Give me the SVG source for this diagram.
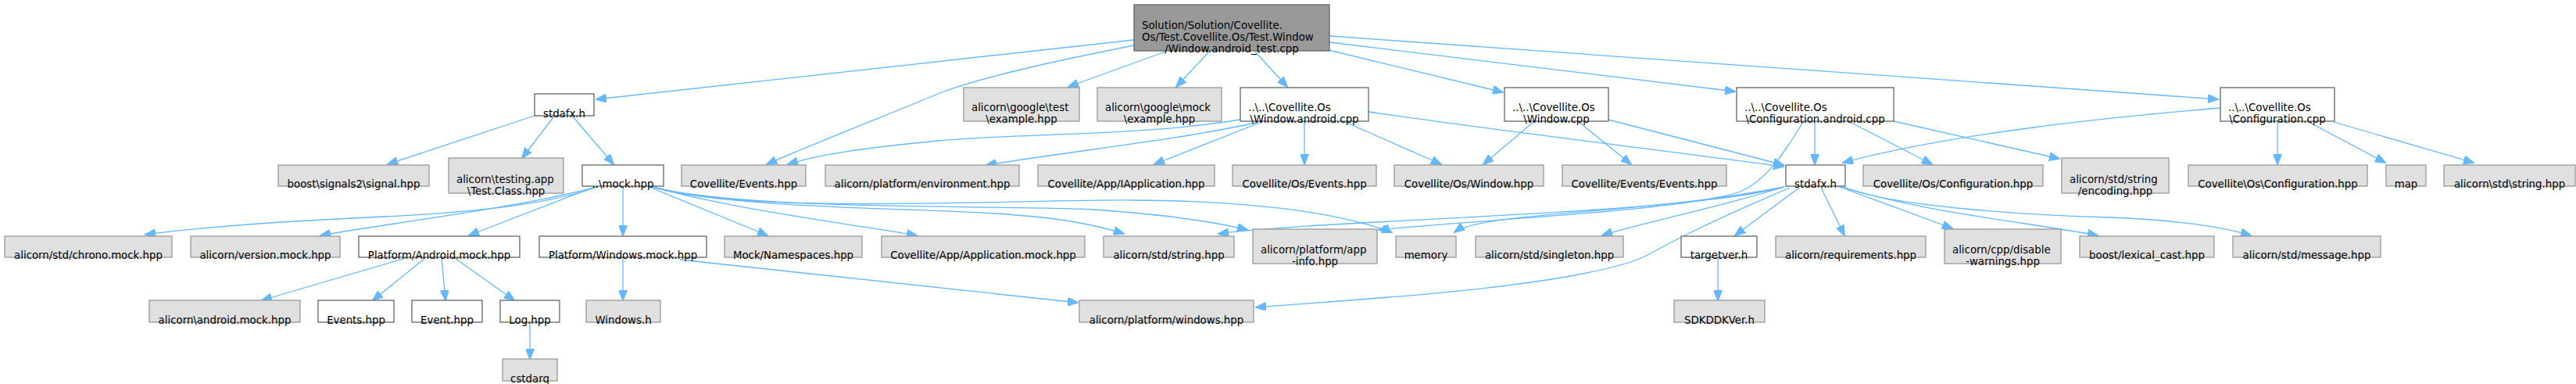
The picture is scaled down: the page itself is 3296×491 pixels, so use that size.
<svg xmlns="http://www.w3.org/2000/svg" width="3296" height="491" viewBox="0 0 3296 491">
<defs>
<style>
.g rect{fill:#e0e0e0;stroke:#999999;stroke-width:1.3}
.w rect{fill:#ffffff;stroke:#666666;stroke-width:1.3}
.r rect{fill:#999999;stroke:#666666;stroke-width:1.3}
text{font-family:"DejaVu Sans",sans-serif;font-size:13.33px;fill:#000}
.c{text-anchor:middle}
#edges path{fill:none;stroke:#63b8ff;stroke-width:1.3;marker-end:url(#ah)}
</style>
<marker id="ah" markerUnits="userSpaceOnUse" markerWidth="14" markerHeight="11" viewBox="0 0 14 11" refX="13" refY="5.5" orient="auto"><path d="M0,0 L14,5.5 L0,11 z" fill="#63b8ff" stroke="#63b8ff"/></marker>
</defs>
<rect width="3296" height="491" fill="#ffffff"/>
<g id="edges">
<path d="M1451,51 L763,127"/>
<path d="M1451,58 C1340,80 1260,98 1205,118 C1140,145 1050,180 981,210"/>
<path d="M1491,66 L1367,111"/>
<path d="M1547,66 L1505,111"/>
<path d="M1606,66 L1647,111"/>
<path d="M1700,64 L1923,118"/>
<path d="M1701,54 L2220,117"/>
<path d="M1701,46 L2838,127"/>
<path d="M684,148 L496,210"/>
<path d="M708,150 L668,202"/>
<path d="M732,148 L785,210"/>
<path d="M1587,153 C1450,175 1300,170 1200,180 C1100,190 1050,197 1008,210"/>
<path d="M1607,157 C1500,180 1380,192 1262,211"/>
<path d="M1614,156 L1477,210"/>
<path d="M1669,156 L1669,210"/>
<path d="M1721,156 L1844,210"/>
<path d="M1751,143 C1900,165 2150,195 2282,213"/>
<path d="M2058,153 L2282,211"/>
<path d="M1962,156 L1898,210"/>
<path d="M2020,156 L2087,210"/>
<path d="M2322,156 L2322,210"/>
<path d="M2367,156 L2472,210"/>
<path d="M2423,155 L2635,203"/>
<path d="M2307,156 C2280,200 2260,230 2227,245 C2150,270 1900,280 1764,294"/>
<path d="M761,240 C700,262 600,272 491,277 C380,282 260,290 186,300"/>
<path d="M765,239 C650,268 500,285 410,301"/>
<path d="M758,240 L600,301"/>
<path d="M797,240 L797,301"/>
<path d="M833,240 L982,301"/>
<path d="M835,239 C950,270 1080,285 1173,301"/>
<path d="M835,239 C950,270 1200,265 1300,275 C1370,280 1410,290 1438,299"/>
<path d="M835,239 C950,270 1300,262 1400,268 C1500,275 1560,285 1596,294"/>
<path d="M835,239 C950,275 1300,255 1450,256 C1620,257 1720,275 1781,297"/>
<path d="M2302,240 L2220,301"/>
<path d="M2330,240 L2360,301"/>
<path d="M2351,238 L2498,292"/>
<path d="M2355,238 C2450,270 2600,285 2684,301"/>
<path d="M2355,238 C2420,265 2600,275 2700,278 C2800,282 2850,292 2880,301"/>
<path d="M2283,239 C2200,265 2100,285 2050,301"/>
<path d="M2283,239 C2100,275 1900,270 1861,297"/>
<path d="M2283,239 C2150,275 1700,280 1559,299"/>
<path d="M2290,240 C2150,300 2140,310 2100,330 C2000,370 1700,385 1607,393"/>
<path d="M2198,329 L2198,384"/>
<path d="M519,330 L335,384"/>
<path d="M544,330 L477,384"/>
<path d="M565,330 L570,384"/>
<path d="M582,330 L658,384"/>
<path d="M797,329 L797,384"/>
<path d="M870,332 L1379,387"/>
<path d="M678,412 L678,459"/>
<path d="M2841,138 C2700,150 2500,170 2358,208"/>
<path d="M2914,156 L2914,210"/>
<path d="M2954,156 L3052,208"/>
<path d="M2986,156 L3165,208"/>
</g>
<g id="n_root" class="r"><rect x="1451" y="6" width="250" height="59"/><text x="1461" y="37">Solution/Solution/Covellite.</text><text x="1461" y="52">Os/Test.Covellite.Os/Test.Window</text><text class="c" x="1576" y="67">/Window.android_test.cpp</text></g>
<g id="n_stdafx_l" class="w"><rect x="684" y="120" width="76" height="28"/><text class="c" x="722" y="149.5">stdafx.h</text></g>
<g id="n_gtest" class="g"><rect x="1233" y="112" width="148" height="43"/><text x="1243" y="142">alicorn\google\test</text><text class="c" x="1307" y="157">\example.hpp</text></g>
<g id="n_gmock" class="g"><rect x="1404" y="112" width="159" height="43"/><text x="1414" y="142">alicorn\google\mock</text><text class="c" x="1483.5" y="157">\example.hpp</text></g>
<g id="n_winand" class="w"><rect x="1587" y="112" width="164" height="43"/><text x="1597" y="142">..\..\Covellite.Os</text><text class="c" x="1669" y="157">\Window.android.cpp</text></g>
<g id="n_win" class="w"><rect x="1925" y="112" width="133" height="43"/><text x="1935" y="142">..\..\Covellite.Os</text><text class="c" x="1991.5" y="157">\Window.cpp</text></g>
<g id="n_confand" class="w"><rect x="2222" y="112" width="201" height="43"/><text x="2232" y="142">..\..\Covellite.Os</text><text class="c" x="2322.5" y="157">\Configuration.android.cpp</text></g>
<g id="n_conf" class="w"><rect x="2841" y="112" width="146" height="43"/><text x="2851" y="142">..\..\Covellite.Os</text><text class="c" x="2914" y="157">\Configuration.cpp</text></g>
<g id="n_signal" class="g"><rect x="356" y="211" width="193" height="27"/><text class="c" x="452.5" y="239.5">boost\signals2\signal.hpp</text></g>
<g id="n_testclass" class="g"><rect x="574" y="202" width="147" height="45"/><text x="584" y="233.5">alicorn\testing.app</text><text class="c" x="647.5" y="248.5">\Test.Class.hpp</text></g>
<g id="n_mock" class="w"><rect x="745" y="211" width="104" height="27"/><text class="c" x="797" y="239.5">..\mock.hpp</text></g>
<g id="n_cevents" class="g"><rect x="872" y="211" width="159" height="27"/><text class="c" x="951.5" y="239.5">Covellite/Events.hpp</text></g>
<g id="n_env" class="g"><rect x="1056" y="211" width="248" height="27"/><text class="c" x="1180" y="239.5">alicorn/platform/environment.hpp</text></g>
<g id="n_iapp" class="g"><rect x="1328" y="211" width="226" height="27"/><text class="c" x="1441" y="239.5">Covellite/App/IApplication.hpp</text></g>
<g id="n_osevents" class="g"><rect x="1577" y="211" width="184" height="27"/><text class="c" x="1669" y="239.5">Covellite/Os/Events.hpp</text></g>
<g id="n_oswindow" class="g"><rect x="1784" y="211" width="191" height="27"/><text class="c" x="1879.5" y="239.5">Covellite/Os/Window.hpp</text></g>
<g id="n_evevents" class="g"><rect x="1999" y="211" width="210" height="27"/><text class="c" x="2104" y="239.5">Covellite/Events/Events.hpp</text></g>
<g id="n_stdafx_r" class="w"><rect x="2285" y="211" width="76" height="27"/><text class="c" x="2323" y="239.5">stdafx.h</text></g>
<g id="n_osconf" class="g"><rect x="2384" y="211" width="230" height="27"/><text class="c" x="2499" y="239.5">Covellite/Os/Configuration.hpp</text></g>
<g id="n_encoding" class="g"><rect x="2638" y="202" width="137" height="45"/><text x="2648" y="233.5">alicorn/std/string</text><text class="c" x="2706.5" y="248.5">/encoding.hpp</text></g>
<g id="n_osconf2" class="g"><rect x="2800" y="211" width="229" height="27"/><text class="c" x="2914.5" y="239.5">Covellite\Os\Configuration.hpp</text></g>
<g id="n_map" class="g"><rect x="3053" y="211" width="51" height="27"/><text class="c" x="3078.5" y="239.5">map</text></g>
<g id="n_string2" class="g"><rect x="3127" y="211" width="168" height="27"/><text class="c" x="3211" y="239.5">alicorn\std\string.hpp</text></g>
<g id="n_chrono" class="g"><rect x="6" y="302" width="214" height="27"/><text class="c" x="113" y="330.5">alicorn/std/chrono.mock.hpp</text></g>
<g id="n_version" class="g"><rect x="244" y="302" width="191" height="27"/><text class="c" x="339.5" y="330.5">alicorn/version.mock.hpp</text></g>
<g id="n_andmock" class="w"><rect x="459" y="302" width="206" height="27"/><text class="c" x="562" y="330.5">Platform/Android.mock.hpp</text></g>
<g id="n_winmock" class="w"><rect x="690" y="302" width="214" height="27"/><text class="c" x="797" y="330.5">Platform/Windows.mock.hpp</text></g>
<g id="n_ns" class="g"><rect x="927" y="302" width="176" height="27"/><text class="c" x="1015" y="330.5">Mock/Namespaces.hpp</text></g>
<g id="n_appmock" class="g"><rect x="1128" y="302" width="260" height="27"/><text class="c" x="1258" y="330.5">Covellite/App/Application.mock.hpp</text></g>
<g id="n_string" class="g"><rect x="1412" y="302" width="167" height="27"/><text class="c" x="1495.5" y="330.5">alicorn/std/string.hpp</text></g>
<g id="n_appinfo" class="g"><rect x="1603" y="293" width="159" height="44"/><text x="1613" y="323.5">alicorn/platform/app</text><text class="c" x="1682.5" y="338.5">-info.hpp</text></g>
<g id="n_memory" class="g"><rect x="1786" y="302" width="77" height="27"/><text class="c" x="1824.5" y="330.5">memory</text></g>
<g id="n_singleton" class="g"><rect x="1888" y="302" width="189" height="27"/><text class="c" x="1982.5" y="330.5">alicorn/std/singleton.hpp</text></g>
<g id="n_targetver" class="w"><rect x="2151" y="302" width="97" height="27"/><text class="c" x="2199.5" y="330.5">targetver.h</text></g>
<g id="n_req" class="g"><rect x="2272" y="302" width="192" height="27"/><text class="c" x="2368" y="330.5">alicorn/requirements.hpp</text></g>
<g id="n_disable" class="g"><rect x="2488" y="293" width="149" height="44"/><text x="2498" y="323.5">alicorn/cpp/disable</text><text class="c" x="2562.5" y="338.5">-warnings.hpp</text></g>
<g id="n_lexical" class="g"><rect x="2661" y="302" width="172" height="27"/><text class="c" x="2747" y="330.5">boost/lexical_cast.hpp</text></g>
<g id="n_message" class="g"><rect x="2857" y="302" width="189" height="27"/><text class="c" x="2951.5" y="330.5">alicorn/std/message.hpp</text></g>
<g id="n_andmockhpp" class="g"><rect x="191" y="384" width="193" height="28"/><text class="c" x="287.5" y="413.5">alicorn\android.mock.hpp</text></g>
<g id="n_eventshpp" class="w"><rect x="407" y="384" width="97" height="28"/><text class="c" x="455.5" y="413.5">Events.hpp</text></g>
<g id="n_eventhpp" class="w"><rect x="527" y="384" width="90" height="28"/><text class="c" x="572" y="413.5">Event.hpp</text></g>
<g id="n_log" class="w"><rect x="640" y="384" width="76" height="28"/><text class="c" x="678" y="413.5">Log.hpp</text></g>
<g id="n_windowsh" class="g"><rect x="750" y="384" width="95" height="28"/><text class="c" x="797.5" y="413.5">Windows.h</text></g>
<g id="n_winhpp" class="g"><rect x="1381" y="384" width="223" height="28"/><text class="c" x="1492.5" y="413.5">alicorn/platform/windows.hpp</text></g>
<g id="n_sdk" class="g"><rect x="2142" y="384" width="116" height="28"/><text class="c" x="2200" y="413.5">SDKDDKVer.h</text></g>
<g id="n_cstdarg" class="g"><rect x="643" y="459" width="70" height="28"/><text class="c" x="678" y="488.5">cstdarq</text></g>
</svg>
